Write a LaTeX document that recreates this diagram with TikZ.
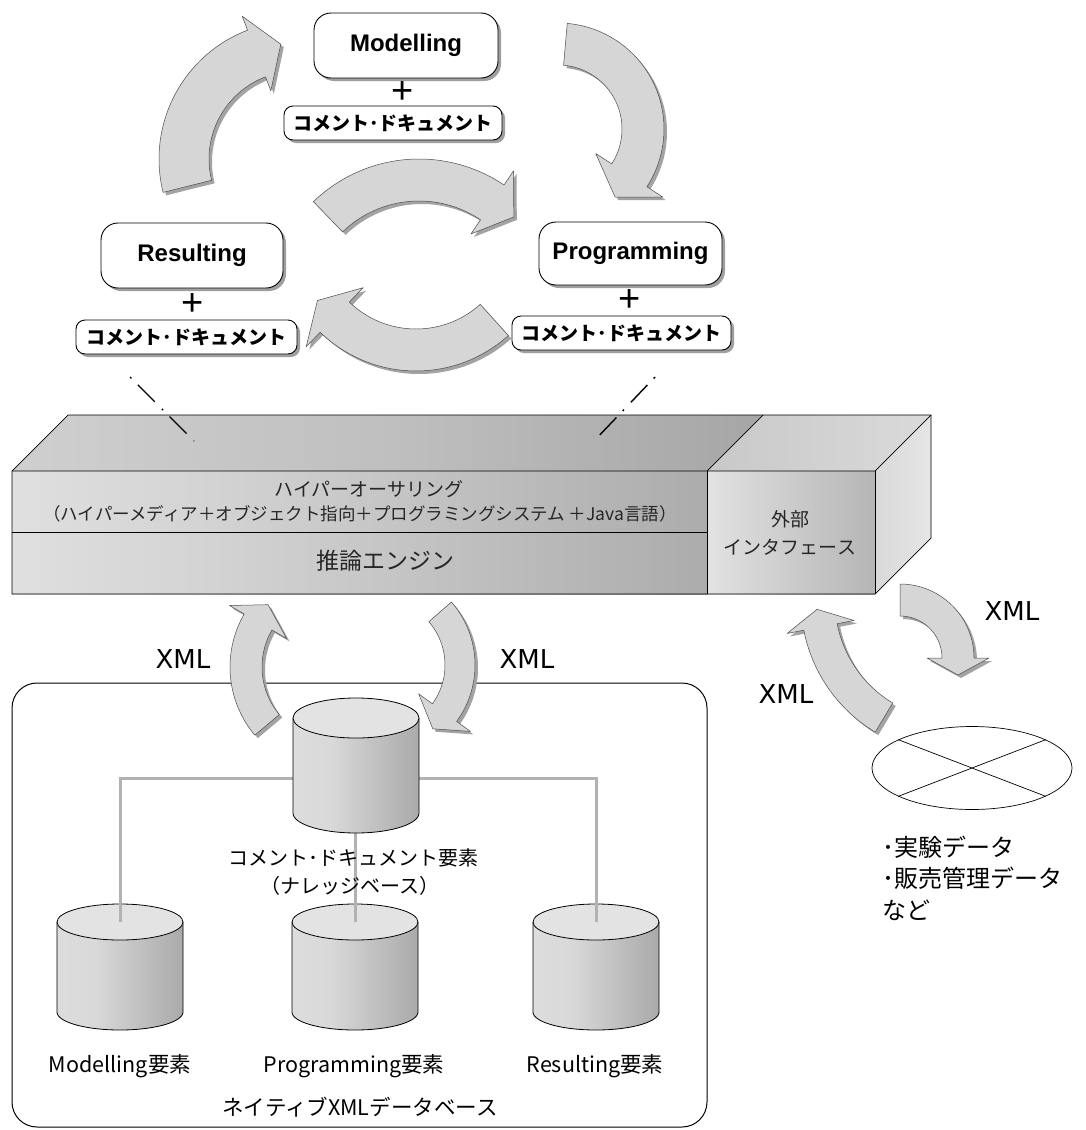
\documentclass[tikz,border=0pt]{standalone}
\usepackage{fontspec}
\newfontfamily\jpfont{Noto Sans CJK JP}
\newfontfamily\arialfont{Liberation Sans}
\newfontfamily\dvfont{DejaVu Sans}
\usetikzlibrary{shapes.geometric,shadows}

% shadings for the block and the cylinders
\pgfdeclarehorizontalshading{cylbody}{100bp}{color(0bp)=(gray!22); color(40bp)=(gray!30); color(78bp)=(gray!70); color(100bp)=(gray!78)}
\pgfdeclarehorizontalshading{barfront}{100bp}{color(0bp)=(gray!8); color(40bp)=(gray!35); color(75bp)=(gray!65); color(100bp)=(gray!85)}
\pgfdeclarehorizontalshading{bartop}{100bp}{color(0bp)=(gray!25); color(50bp)=(gray!50); color(100bp)=(gray!90)}
\pgfdeclarehorizontalshading{extfront}{100bp}{color(0bp)=(gray!2); color(35bp)=(gray!30); color(100bp)=(gray!75)}
\pgfdeclarehorizontalshading{exttop}{100bp}{color(0bp)=(gray!50); color(100bp)=(gray!22)}
\pgfdeclarehorizontalshading{extside}{100bp}{color(0bp)=(gray!35); color(100bp)=(gray!15)}

% curved block arrow along a circle:
% #1 style, #2 cx, #3 cy, #4 radius, #5 band width, #6 start angle, #7 end angle,
% #8 half width of head, #9 head length
\newcommand\ringarrow[9]{%
  \pgfmathsetmacro\RAo{#4+#5/2}%
  \pgfmathsetmacro\RAi{#4-#5/2}%
  \pgfmathsetmacro\RAho{#4+#8}%
  \pgfmathsetmacro\RAhi{#4-#8}%
  \pgfmathsetmacro\RAtx{#2+#4*cos(#7)-#9*sin(#7)}%
  \pgfmathsetmacro\RAty{#3+#4*sin(#7)+#9*cos(#7)}%
  \path[#1] plot[domain=#6:#7,samples=60] ({#2+\RAo*cos(\x)},{#3+\RAo*sin(\x)})
    -- ({#2+\RAho*cos(#7)},{#3+\RAho*sin(#7)})
    -- (\RAtx,\RAty)
    -- ({#2+\RAhi*cos(#7)},{#3+\RAhi*sin(#7)})
    -- plot[domain=#7:#6,samples=60] ({#2+\RAi*cos(\x)},{#3+\RAi*sin(\x)})
    -- cycle;}
\newcommand\blockarrow[8]{%
  \ringarrow{arrshadow}{#1}{#2}{#3}{#4}{#5}{#6}{#7}{#8}%
  \ringarrow{arrbody}{#1}{#2}{#3}{#4}{#5}{#6}{#7}{#8}}

% database cylinder: #1 cx, #2 top y, #3 bottom y, #4 y radius
\newcommand\dbcyl[4]{%
  \shade[shading=cylbody] ({#1-63},#2) -- plot[domain=180:0,samples=40] ({#1+63*cos(\x)},{#3+#4*sin(\x)}) -- ({#1+63},#2) -- cycle;
  \draw[line width=.8pt] ({#1-63},#2) -- plot[domain=180:0,samples=40] ({#1+63*cos(\x)},{#3+#4*sin(\x)}) -- ({#1+63},#2);
  \filldraw[fill=gray!22,line width=.8pt] (#1,#2) ellipse [x radius=63pt, y radius=#4pt];}

\begin{document}
\begin{tikzpicture}[x=1pt,y=-1pt,
  arrshadow/.style={fill=gray!72, shift={(3,3)}},
  arrbody/.style={fill=gray!32, draw=gray!60!black, line width=.5pt, line join=round},
  stagebox/.style={draw, line width=.9pt, fill=white, rounded corners=17pt, inner sep=0pt,
    minimum height=65pt, drop shadow={shadow xshift=3pt, shadow yshift=-3pt, fill=gray!75, opacity=1},
    font={\arialfont\bfseries\fontsize{24}{28}\selectfont}},
  notebox/.style={draw, line width=.9pt, fill=white, rounded corners=9pt, inner sep=0pt,
    minimum height=34pt, drop shadow={shadow xshift=3pt, shadow yshift=-3pt, fill=gray!75, opacity=1},
    font={\jpfont\bfseries\fontsize{19}{23}\selectfont}},
  plussign/.style={inner sep=0pt, font={\arialfont\fontsize{38}{38}\selectfont}},
  barlabel/.style={inner sep=0pt, text=black!85, font={\jpfont\fontsize{19}{23}\selectfont}},
  dblabel/.style={inner sep=0pt, font={\jpfont\fontsize{21.5}{25}\selectfont}},
  xmllabel/.style={inner sep=0pt, font={\dvfont\fontsize{26}{30}\selectfont}},
  datalabel/.style={inner sep=0pt, anchor=west, font={\jpfont\fontsize{24}{28}\selectfont}},
  dashline/.style={line width=1.4pt, dash pattern=on 2pt off 9pt on 24pt off 10pt},
  dbline/.style={line width=3pt, draw=gray!60}]

\useasboundingbox (0,0) rectangle (1085,1130);
\fill[white] (0,0) rectangle (1085,1130);

% ---------- arrow leaving the interface (partly behind the block) ----------
\blockarrow{900}{658}{58}{32}{-90}{0}{31}{17}

% ---------- authoring block ----------
\shade[shading=bartop] (12,471) -- (68,415) -- (763,415) -- (707,471) -- cycle;
\shade[shading=exttop] (707,471) -- (763,415) -- (931,415) -- (875,471) -- cycle;
\shade[shading=extside] (875,471) -- (931,415) -- (931,538) -- (875,594) -- cycle;
\shade[shading=barfront] (12,471) rectangle (707,594);
\shade[shading=extfront] (707,471) rectangle (875,594);
\draw[line width=.7pt] (12,471) -- (68,415) -- (931,415) -- (931,538) -- (875,594) -- (12,594) -- cycle;
\draw[line width=.7pt] (12,471) -- (875,471) -- (931,415);
\draw[line width=.7pt] (875,471) -- (875,594);
\draw[line width=.7pt] (707,471) -- (707,594);
\draw[line width=.7pt] (707,471) -- (763,415);
\draw[line width=.6pt] (12,532) -- (707,532);

\node[barlabel] (hyper) at (369,489) {ハイパーオーサリング};
\node[barlabel, font={\jpfont\fontsize{17.5}{21}\selectfont}] (hypersub) at (360,514)
  {（ハイパーメディア＋オブジェクト指向＋プログラミングシステム ＋Java言語）};
\node[barlabel, font={\jpfont\fontsize{23}{27}\selectfont}] (infer) at (385,561) {推論エンジン};
\node[barlabel] (ext1) at (790,519) {外部};
\node[barlabel] (ext2) at (790,547) {インタフェース};

% ---------- development cycle ----------
\blockarrow{297}{159}{113}{50}{166}{249}{40}{26}
\blockarrow{558}{129}{85}{42}{-85}{33}{40}{26}
\blockarrow{419}{311}{131}{42}{226}{304}{38}{26}
\blockarrow{416}{233}{117}{42}{48}{134}{41}{24}

\node[stagebox, minimum width=184pt] (model) at (406,45.5) {Modelling};
\node[plussign] (mplus) at (403,93) {+};
\node[notebox, minimum width=218pt] (mnote) at (393,123) {コメント･ドキュメント};

\node[stagebox, minimum width=182pt] (result) at (192,255.5) {Resulting};
\node[plussign] (rplus) at (193,305) {+};
\node[notebox, minimum width=221pt] (rnote) at (186.5,337) {コメント･ドキュメント};

\node[stagebox, minimum width=183pt, minimum height=63pt] (prog) at (630.5,253.5) {Programming};
\node[plussign] (pplus) at (630,301) {+};
\node[notebox, minimum width=219pt] (pnote) at (621.5,333) {コメント･ドキュメント};

\coordinate (dl1) at (130,377);
\coordinate (dl2) at (194,441);
\coordinate (dr1) at (655,377);
\coordinate (dr2) at (594,441);
\draw[dashline] (dl1) -- (dl2);
\draw[dashline] (dr1) -- (dr2);

% ---------- native XML database ----------
\node[draw, line width=1pt, rounded corners=25pt, minimum width=695pt, minimum height=444pt, inner sep=0pt] (db) at (359.5,905) {};

\blockarrow{336}{667}{90}{32}{140}{210}{33}{20}
\blockarrow{379}{665}{81}{30}{-41}{36}{32}{20}

\node[xmllabel] (xmlup) at (183,659) {XML};
\node[xmllabel] (xmldown) at (527,659) {XML};

\coordinate (mcyl) at (120,922);
\coordinate (pcyl) at (355,922);
\coordinate (rcyl) at (596,922);
\coordinate (ccylmid) at (355,778);
\coordinate (ccylbot) at (355,833);

\dbcyl{120}{922}{1012}{18}
\dbcyl{355}{922}{1012}{18}
\dbcyl{596}{922}{1012}{18}
\draw[dbline] (mcyl) |- (ccylmid) -| (rcyl);
\draw[dbline] (ccylbot) -- (pcyl);
\dbcyl{356}{718}{813}{20}

\node[dblabel, font={\jpfont\fontsize{20}{24}\selectfont}] (knowledge1) at (353,858) {コメント･ドキュメント要素};
\node[dblabel, font={\jpfont\fontsize{20}{24}\selectfont}] (knowledge2) at (350,886) {（ナレッジベース）};
\node[dblabel] (mlabel) at (120,1066) {Modelling要素};
\node[dblabel] (plabel) at (354,1066) {Programming要素};
\node[dblabel] (rlabel) at (595,1066) {Resulting要素};
\node[dblabel] (dbname) at (360,1107) {ネイティブXMLデータベース};

% ---------- external data ----------
\blockarrow{954}{601}{136}{34}{121}{169}{34}{18}
\node[xmllabel] (xmlout) at (1012,611) {XML};
\node[xmllabel] (xmlin) at (786,694) {XML};

\node[ellipse, draw, line width=.7pt, minimum width=200pt, minimum height=83pt, inner sep=0pt] (extdata) at (972,768) {};
\draw[line width=.7pt] (extdata.159) -- (extdata.-21);
\draw[line width=.7pt] (extdata.21) -- (extdata.201);

\node[datalabel] (data1) at (882,847) {･実験データ};
\node[datalabel] (data2) at (882,878) {･販売管理データ};
\node[datalabel] (data3) at (882,910) {など};
\end{tikzpicture}
\end{document}
